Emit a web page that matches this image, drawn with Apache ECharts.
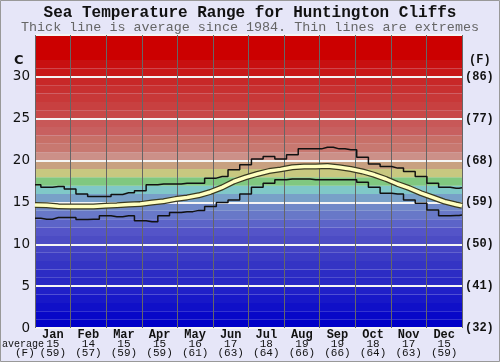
<!DOCTYPE html>
<html>
<head>
<meta charset="utf-8">
<script src="https://cdn.jsdelivr.net/npm/echarts@6/dist/echarts.min.js"></script>
<style>
  html, body { margin: 0; padding: 0; background: #e6e6f8; }
  #main { width: 500px; height: 362px; }
</style>
</head>
<body>
<div id="main"></div>
<script>
// months + monthly average labels (C and F)
var months = ["Jan", "Feb", "Mar", "Apr", "May", "Jun", "Jul", "Aug", "Sep", "Oct", "Nov", "Dec"];
var avgC = [15, 14, 15, 15, 16, 17, 18, 19, 19, 18, 17, 15];
var avgF = [59, 57, 59, 59, 61, 63, 64, 66, 66, 64, 63, 59];

var days = [0, 10, 20, 30, 40, 50, 60, 70, 80, 90, 100, 110, 120, 130, 140, 150, 160, 170, 180,
  190, 200, 210, 220, 230, 240, 250, 260, 270, 280, 290, 300, 310, 320, 330, 340, 350, 360, 365];
var maxT = [17.1, 16.8, 16.9, 16.6, 16.0, 15.7, 15.7, 15.95, 16.15, 16.4, 17.1, 17.2, 17.2, 17.3, 17.3,
  17.9, 18.1, 18.9, 19.5, 20.2, 20.5, 20.2, 20.7, 21.4, 21.4, 21.6, 21.4, 21.3, 20.4, 19.6, 19.3, 19.1,
  18.7, 18.1, 17.3, 16.8, 16.7, 16.75];
var meanT = [14.7, 14.65, 14.55, 14.5, 14.5, 14.5, 14.6, 14.65, 14.75, 14.8, 15.0, 15.15, 15.4, 15.6,
  15.85, 16.25, 16.8, 17.5, 18.0, 18.4, 18.75, 18.95, 19.2, 19.3, 19.3, 19.35, 19.2, 19.0, 18.7, 18.3,
  17.8, 17.2, 16.7, 16.1, 15.6, 15.1, 14.75, 14.6];
var minT = [13.1, 13.0, 13.2, 13.2, 12.95, 13.0, 13.4, 13.3, 13.4, 12.8, 12.7, 13.4, 13.8, 13.9, 14.05,
  14.5, 15.0, 15.3, 16.0, 16.8, 17.3, 17.7, 17.8, 17.8, 17.7, 17.7, 17.7, 17.7, 17.4, 16.8, 16.1, 16.0,
  15.3, 14.9, 14.1, 13.4, 13.45, 13.5];

// background band colours, one per degree C from 0 up to 35
var bandColors = [
  "#0000c8", "#0808c8", "#1010c8", "#1818c8", "#2020c8",
  "#2828c4", "#2c2cc4", "#3434c4", "#3c3cc4", "#4444c4",
  "#4c4cc4", "#5454c8", "#5c64c8", "#6878c8", "#7088c8",
  "#78a0c8", "#80c8c8", "#80c880", "#c8c880", "#c8a080",
  "#cc9088", "#c87870", "#c87068", "#c86060", "#c85858",
  "#c84848", "#c84040", "#c83838", "#c83030", "#c82828",
  "#c81818", "#c81010", "#cc0000", "#cc0000", "#cc0000"
];

var mono = "Liberation Mono";

function pairs(vals) {
  return days.map(function (d, i) { return [d, vals[i]]; });
}

var chartDom = document.getElementById("main");
var myChart = echarts.init(chartDom);
var option;

option = {
  backgroundColor: "#e6e6f8",
  animation: false,
  grid: { left: 35, right: 38, top: 35, bottom: 34 },
  xAxis: [
    {
      type: "category",
      data: months,
      axisLine: { show: false },
      axisTick: { show: false },
      splitLine: { show: true, lineStyle: { color: "#666", width: 1 } },
      axisLabel: {
        interval: 0,
        margin: 2,
        formatter: function (v, i) {
          return "{m|" + v + "}\n{v|" + avgC[i] + "}\n{v|(" + avgF[i] + ")}";
        },
        rich: {
          m: { fontFamily: mono, fontWeight: "bold", fontSize: 12, lineHeight: 10, color: "#111" },
          v: { fontFamily: mono, fontSize: 11, lineHeight: 9, color: "#111" }
        }
      },
      z: 1
    },
    { type: "value", min: 0, max: 365, show: false }
  ],
  yAxis: [
    {
      type: "value",
      min: 0,
      max: 35,
      interval: 1,
      z: -1,
      axisLine: { show: false },
      axisTick: { show: false },
      splitLine: { show: false },
      splitArea: { show: true, areaStyle: { color: bandColors, opacity: 1 } },
      axisLabel: {
        margin: 5,
        fontFamily: "DejaVu Sans",
        fontSize: 13.5,
        color: "#111",
        formatter: function (v) { return v % 5 === 0 && v < 35 ? String(v) : ""; }
      }
    },
    {
      type: "value",
      position: "right",
      min: 0,
      max: 35,
      interval: 5,
      axisLine: { show: false },
      axisTick: { show: false },
      splitLine: { show: true, lineStyle: { color: "#f4f4f4", width: 2 } },
      axisLabel: {
        margin: 3,
        fontFamily: mono,
        fontWeight: "bold",
        fontSize: 12,
        color: "#111",
        formatter: function (v) { return v < 35 ? "(" + Math.round(v * 9 / 5 + 32) + ")" : ""; }
      }
    }
  ],
  graphic: [
    {
      type: "text", x: 250, y: 12.5,
      style: { text: "Sea Temperature Range for Huntington Cliffs", font: "bold 16px 'Liberation Mono'", fill: "#111", align: "center", verticalAlign: "middle" }
    },
    {
      type: "text", x: 250, y: 27.5,
      style: { text: "Thick line is average since 1984. Thin lines are extremes", font: "13.4px 'Liberation Mono'", fill: "#666", align: "center", verticalAlign: "middle" }
    },
    { type: "text", left: 14, top: 54, style: { text: "C", font: "bold 13px 'DejaVu Sans'", fill: "#111" } },
    { type: "text", left: 469, top: 54, style: { text: "(F)", font: "bold 12px 'Liberation Mono'", fill: "#111" } },
    { type: "text", left: 2, top: 339, style: { text: "average", font: "10px 'Liberation Mono'", fill: "#111" } },
    { type: "text", left: 15, top: 348, style: { text: "(F)", font: "11px 'Liberation Mono'", fill: "#111" } },
    { type: "rect", shape: { x: 0.5, y: 0.5, width: 499, height: 361 }, style: { fill: "none", stroke: "#999", lineWidth: 1 } }
  ],
  series: [
    {
      name: "max",
      type: "line",
      xAxisIndex: 1,
      yAxisIndex: 0,
      step: "middle",
      symbol: "none",
      lineStyle: { color: "#111", width: 1.5 },
      data: pairs(maxT)
    },
    {
      name: "min",
      type: "line",
      xAxisIndex: 1,
      yAxisIndex: 0,
      step: "middle",
      symbol: "none",
      lineStyle: { color: "#111", width: 1.5 },
      data: pairs(minT)
    },
    {
      name: "avgEdge",
      type: "line",
      xAxisIndex: 1,
      yAxisIndex: 0,
      symbol: "none",
      lineStyle: { color: "#3a3a20", width: 6 },
      data: pairs(meanT)
    },
    {
      name: "avg",
      type: "line",
      xAxisIndex: 1,
      yAxisIndex: 0,
      symbol: "none",
      lineStyle: { color: "#ffffc0", width: 3.5 },
      data: pairs(meanT)
    }
  ]
};

option && myChart.setOption(option);
</script>
</body>
</html>
